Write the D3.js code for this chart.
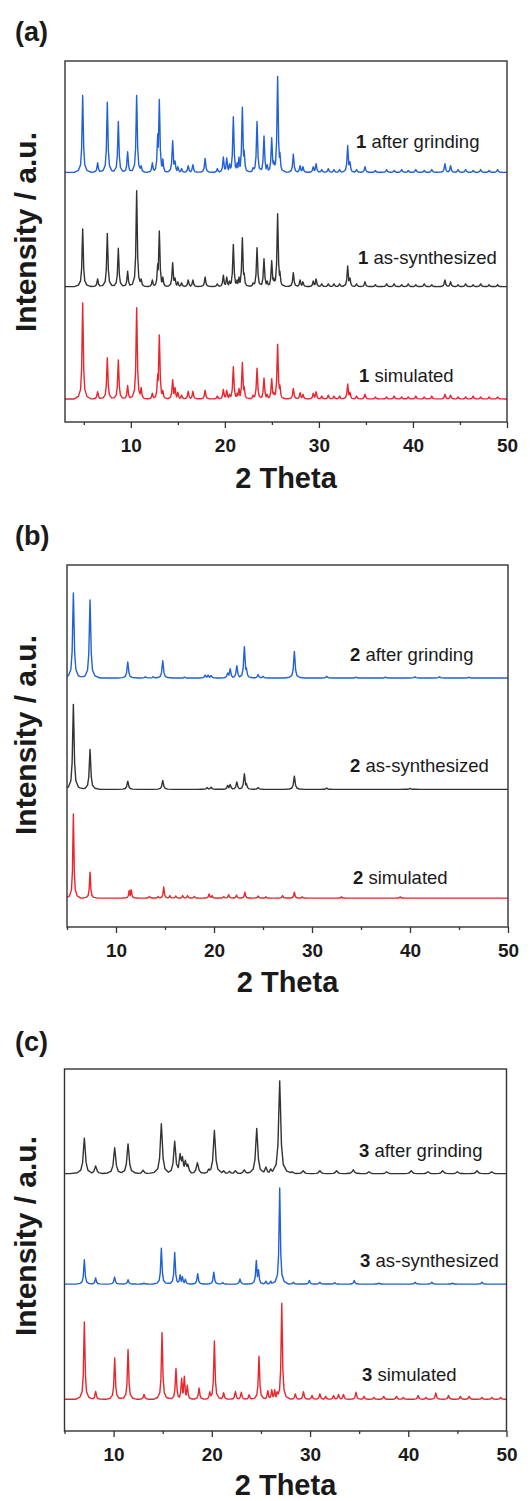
<!DOCTYPE html>
<html><head><meta charset="utf-8">
<script src="https://cdn.jsdelivr.net/npm/d3@7"></script>
<style>body{margin:0;background:#fff} svg{display:block}</style>
</head><body>
<svg id="chart" width="531" height="1501"></svg>
<script>
// ---------------- DATA ----------------
const panelLetters = ["(a)", "(b)", "(c)"];
const compounds = ["1", "2", "3"];
const seriesNames = ["after grinding", "as-synthesized", "simulated"];
const xDomains = [[3, 50], [5, 50], [5, 50]];
const majorTicks = [10, 20, 30, 40, 50];
const minorTicks = [5, 15, 25, 35, 45];
const xTitle = "2 Theta";
const yTitle = "Intensity / a.u.";
// vertical offsets of stacked patterns (intensity units), top to bottom
const offsets = [[236, 117, 0], [259, 128, 0], [235, 120, 0]];
const yDomains = [[-24, 352], [-34, 392], [-33, 344]];

// peak lists: [2theta, intensity]
const peaks1Grinding = [[4.88,80],[6.47,10],[7.5,73],[8.67,53],[9.66,21.5],[10.62,80],[11.1,7],[12.29,10],[12.86,40],[13.03,76],[13.4,14],[14.45,33],[14.7,12],[15.0,6],[15.4,4],[16.1,7],[16.6,8],[17.9,14.5],[19.2,4],[19.84,16],[20.2,15],[20.5,9],[20.9,58],[21.3,10],[21.5,16],[21.86,68],[22.05,23],[23.0,5],[23.42,53],[24.16,38],[24.5,8],[24.98,36],[25.2,12],[25.61,100],[25.85,21],[27.28,19],[28.0,7],[28.3,6],[29.4,6],[29.7,9],[30.3,3],[31.0,4],[31.6,3],[32.2,3],[33.06,28],[33.3,11],[34.0,3],[34.9,6],[36.0,2],[37.2,3],[38.0,2],[38.8,3],[39.5,2],[40.3,3],[41.2,2],[42.0,3],[43.4,9],[44.0,7],[44.8,3],[45.6,3],[46.4,2],[47.2,3],[48.1,2],[49.0,3]];
const peaks1Synth = [[4.88,60],[6.47,8],[7.5,55.5],[8.67,40],[9.66,16],[10.62,100],[11.1,8],[12.29,7],[12.86,24],[13.03,58],[13.4,10],[14.45,25],[14.7,9],[15.0,5],[15.4,4],[16.1,7],[16.6,7],[17.9,10],[19.2,3],[19.84,12],[20.2,10],[20.5,6],[20.9,44],[21.3,7],[21.5,10],[21.86,51],[22.05,14],[23.0,4],[23.42,40.6],[24.16,29],[24.5,6],[24.98,27],[25.2,9],[25.61,76],[25.85,16],[27.28,14.6],[28.0,7],[28.3,5],[29.4,6],[29.7,8],[30.3,3],[31.0,3],[31.6,3],[32.2,3],[33.06,21.5],[33.3,9],[34.0,3],[34.9,5],[36.0,2],[37.2,3],[38.0,3],[38.8,2],[39.5,3],[40.3,2],[41.2,3],[42.0,2],[43.4,7],[44.0,5],[44.8,2],[45.6,3],[46.4,2],[47.2,3],[48.1,2],[49.0,2]];
const peaks1Sim = [[4.88,100],[6.47,7.6],[7.5,43],[8.67,40.6],[9.66,14],[10.62,95],[11.1,12],[12.29,6],[12.86,26],[13.03,66.7],[13.4,9],[14.45,20],[14.7,12],[15.0,7],[15.4,4],[16.1,8],[16.6,8],[17.9,9],[19.2,3],[19.84,10],[20.2,9],[20.5,5],[20.9,33.7],[21.3,6],[21.5,11],[21.86,38],[22.05,13],[23.0,4],[23.42,32],[24.16,22],[24.5,5],[24.98,21],[25.2,7],[25.61,57],[25.85,14.6],[27.28,11],[28.0,6.6],[28.3,5],[29.4,6],[29.7,7.6],[30.3,3],[31.0,4],[31.6,3],[32.2,3],[33.06,15.6],[33.3,7],[34.0,3],[34.9,5],[36.0,2],[37.2,2],[38.0,3],[38.8,2],[39.5,2],[40.3,3],[41.2,2],[42.0,3],[43.4,5],[44.0,4],[44.8,2],[45.6,2],[46.4,3],[47.2,2],[48.1,2],[49.0,2]];

const peaks2Grinding = [[5.65,100],[7.35,92],[11.2,18.8],[13.0,1.5],[13.8,1.5],[14.77,20.4],[17.0,1],[19.1,3.5],[19.4,3.5],[19.7,3],[21.4,6],[21.65,11],[22.33,14.5],[23.1,37],[23.3,12],[24.5,4],[25.0,2],[28.2,31.4],[31.5,2],[34.5,1],[37.5,1],[40.5,1.5],[43.0,1.5],[46.0,1]];
const peaks2Synth = [[5.65,100],[7.35,47],[11.2,9.7],[14.77,10.5],[19.3,2],[19.7,2.5],[21.4,4.7],[21.65,5.8],[22.33,8.6],[23.1,18.3],[23.3,7],[24.5,2],[28.2,15.6],[31.5,1.5],[40.0,1]];
const peaks2Sim = [[5.65,99],[7.35,30.6],[11.35,9],[11.55,10],[13.4,2],[14.3,2],[14.87,13],[15.5,3],[16.1,2.5],[16.8,3],[17.3,3],[18.0,2],[19.5,5],[19.8,3],[21.0,2],[21.5,4],[22.3,3.5],[23.15,7],[24.5,2.5],[25.3,1.5],[27.0,3],[28.2,7],[29.0,1.5],[33.0,1.5],[39.0,1.5]];

const peaks3Grinding = [[7.02,37],[8.17,8],[10.11,27],[11.47,31],[13.0,3.5],[14.86,52],[16.22,33.7],[16.77,21],[17.0,18],[17.3,14],[17.55,10],[18.53,11.5],[19.7,5],[20.26,45],[21.2,3],[21.8,2.5],[22.4,3],[23.3,4],[24.57,47],[25.5,7],[26.0,5],[26.91,96.5],[28.2,2],[29.3,3],[31.0,3],[32.7,3],[34.4,4],[36.0,2],[37.8,2],[40.3,3],[42.0,2],[43.5,3],[45.0,2],[47.0,3],[48.5,2]];
const peaks3Synth = [[7.02,25.3],[8.17,6.3],[10.1,7.3],[11.47,4.5],[13.1,1],[14.86,37.5],[16.22,33],[16.77,9.7],[17.0,8],[17.3,5],[18.56,10.8],[20.2,12.5],[21.1,1.5],[22.87,5.2],[24.53,24.7],[24.75,15],[25.5,3],[26.0,3],[26.91,100],[28.3,2],[29.93,3.8],[31.0,2],[32.5,1.5],[34.5,3.8],[37.0,1],[40.7,2],[42.4,2],[44.5,1],[47.5,2]];
const peaks3Sim = [[7.02,80.5],[8.17,8.3],[10.11,43],[11.47,51.8],[13.1,5.2],[14.93,69.5],[16.35,32],[16.93,22],[17.2,24],[17.5,14.6],[18.7,11.8],[19.8,8],[20.26,60.7],[21.2,7],[22.4,8.3],[23.0,7.3],[23.8,4.7],[24.8,44.8],[25.7,9],[26.1,10],[26.4,10],[26.65,8],[27.12,100],[28.5,5.7],[29.33,8],[30.2,4],[31.0,5.7],[31.6,3],[32.4,4],[32.9,5],[33.4,5],[34.68,7.3],[35.5,3],[36.5,2],[37.5,3],[38.8,3],[39.5,2],[41.0,4],[41.8,2],[42.8,6.6],[44.1,4],[45.3,3],[46.2,3],[47.5,2],[48.5,2],[49.4,2]];

const panelPeaks = [
  [peaks1Grinding, peaks1Synth, peaks1Sim],
  [peaks2Grinding, peaks2Synth, peaks2Sim],
  [peaks3Grinding, peaks3Synth, peaks3Sim]
];

// ---------------- STYLE / LAYOUT ----------------
const BLUE = "#2160d6", BLACK = "#333333", RED = "#e8262c";
const panelColors = [[BLUE, BLACK, RED], [BLUE, BLACK, RED], [BLACK, BLUE, RED]];
const peakGamma = [[0.075, 0.075, 0.075], [0.085, 0.085, 0.065], [0.12, 0.075, 0.075]];
const frames = [
  {x0: 65, x1: 507, y0: 61, y1: 422, letterY: 41, titleY: 488, yTitleCY: 232},
  {x0: 67, x1: 508, y0: 565, y1: 927, letterY: 545, titleY: 992, yTitleCY: 735},
  {x0: 64.5, x1: 506.5, y0: 1069, y1: 1431, letterY: 1051, titleY: 1495, yTitleCY: 1236}
];
const labelPos = [
  [[356, 148], [358, 264], [359, 381.5]],
  [[350, 661], [350, 772], [353, 884]],
  [[359, 1157], [360, 1267], [362, 1381]]
];
const FONT = "'Liberation Sans', Arial, Helvetica, sans-serif";
const TEXT = "#1a1a1a";

// Lorentzian-like peak template: [offset in gamma units, fraction of height]
const template = [[-12,0],[-6,0.027],[-3,0.1],[-1.5,0.31],[-0.6,0.735],[0,1],[0.6,0.735],[1.5,0.31],[3,0.1],[6,0.027],[12,0]];

function profile(peaks, gamma, domain) {
  const xs = new Set([domain[0], domain[1]]);
  peaks.forEach(([p]) => template.forEach(([t]) => {
    const x = p + t * gamma;
    if (x >= domain[0] && x <= domain[1]) xs.add(+x.toFixed(4));
  }));
  const sorted = [...xs].sort((a, b) => a - b);
  return sorted.map(x => {
    let y = 0;
    for (const [p, h] of peaks) {
      const t = (x - p) / gamma;
      if (t <= -12 || t >= 12) continue;
      let i = 0;
      while (template[i + 1][0] < t) i++;
      const [t0, f0] = template[i], [t1, f1] = template[i + 1];
      const f = f0 + (f1 - f0) * (t - t0) / (t1 - t0);
      y = Math.max(y, h * f);
    }
    return [x, y];
  });
}

const svg = d3.select("#chart");

frames.forEach((fr, pi) => {
  const g = svg.append("g");
  const x = d3.scaleLinear().domain(xDomains[pi]).range([fr.x0, fr.x1]);
  const y = d3.scaleLinear().domain(yDomains[pi]).range([fr.y1, fr.y0]);

  // series
  panelPeaks[pi].forEach((pk, si) => {
    const pts = profile(pk, peakGamma[pi][si], xDomains[pi]);
    const off = offsets[pi][si];
    const line = d3.line().x(d => x(d[0])).y(d => y(d[1] + off));
    g.append("path").datum(pts)
      .attr("d", line)
      .attr("fill", "none")
      .attr("stroke", panelColors[pi][si])
      .attr("stroke-width", 1.4)
      .attr("stroke-linejoin", "round");
  });

  // frame
  g.append("rect")
    .attr("x", fr.x0).attr("y", fr.y0)
    .attr("width", fr.x1 - fr.x0).attr("height", fr.y1 - fr.y0)
    .attr("fill", "none").attr("stroke", "#333").attr("stroke-width", 1.4);

  // x axis major
  const axis = d3.axisBottom(x).tickValues(majorTicks).tickSize(6).tickSizeOuter(0).tickPadding(11);
  const ax = g.append("g").attr("transform", `translate(0,${fr.y1})`).call(axis);
  ax.select(".domain").remove();
  ax.selectAll(".tick line").attr("stroke", "#333").attr("stroke-width", 1.3);
  ax.selectAll(".tick text").attr("font-family", FONT).attr("font-weight", "bold")
    .attr("font-size", 19).attr("fill", TEXT);
  // minor ticks
  const axm = d3.axisBottom(x).tickValues(minorTicks.filter(v => v >= xDomains[pi][0])).tickSize(3).tickFormat("");
  const am = g.append("g").attr("transform", `translate(0,${fr.y1})`).call(axm);
  am.select(".domain").remove();
  am.selectAll(".tick line").attr("stroke", "#333").attr("stroke-width", 1.3);

  // x title
  g.append("text").attr("x", (fr.x0 + fr.x1) / 2).attr("y", fr.titleY)
    .attr("text-anchor", "middle").attr("font-family", FONT).attr("font-weight", "bold")
    .attr("font-size", 29).attr("fill", TEXT).text(xTitle);

  // y title
  g.append("text").attr("transform", `translate(36,${fr.yTitleCY}) rotate(-90)`)
    .attr("text-anchor", "middle").attr("font-family", FONT).attr("font-weight", "bold")
    .attr("font-size", 30).attr("fill", TEXT).text(yTitle);

  // panel letter
  g.append("text").attr("x", 15).attr("y", fr.letterY)
    .attr("font-family", FONT).attr("font-weight", "bold")
    .attr("font-size", 27).attr("fill", TEXT).text(panelLetters[pi]);

  // series labels
  seriesNames.forEach((nm, si) => {
    const t = g.append("text").attr("x", labelPos[pi][si][0]).attr("y", labelPos[pi][si][1])
      .attr("font-family", FONT).attr("font-size", 18.5).attr("fill", TEXT);
    t.append("tspan").attr("font-weight", "bold").text(compounds[pi]);
    t.append("tspan").text(" " + nm);
  });
});
</script>
</body></html>
